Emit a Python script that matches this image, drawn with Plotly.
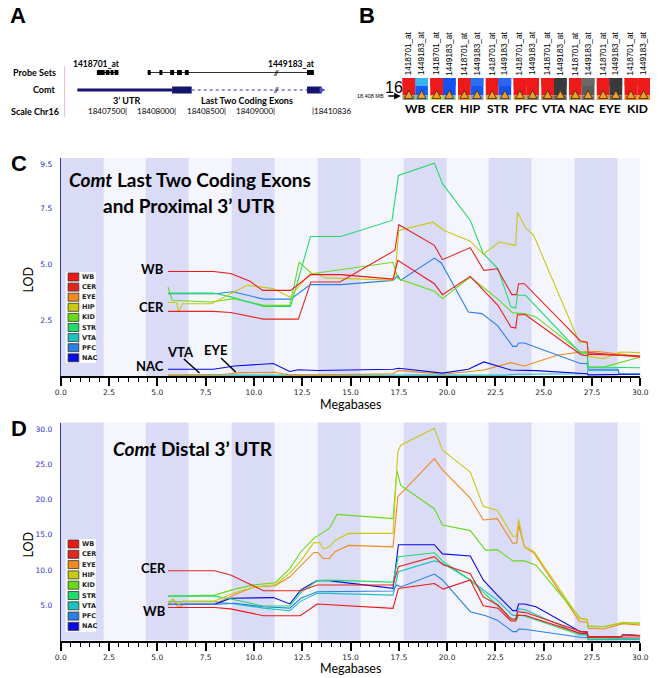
import plotly.graph_objects as go

W, H = 662, 678
def PX(x): return x / W
def PY(y): return 1 - y / H

# ---------------- data: tissues ----------------
tissues = ['WB', 'CER', 'EYE', 'HIP', 'KID', 'STR', 'VTA', 'PFC', 'NAC']
tissue_colors = ['#f01616', '#e4261c', '#f08a1e', '#c9c912', '#66dc18', '#22dc6a', '#1cc2c2', '#2a80e2', '#0a0ae4']

# ---------------- panel C: last two coding exons + proximal 3' UTR ----------------
c_wb_mb  = [5.55, 7.9, 8.8, 9.8, 10.45, 11.9, 12.95, 14.5, 17.2, 17.45, 19.34, 19.76, 21.2, 22.63, 23.3, 23.55, 23.64, 24.06, 26.93, 27.25, 27.3, 28.85, 30.0]
c_wb_lod = [4.69, 4.69, 4.6, 4.25, 3.84, 3.84, 4.55, 4.55, 4.35, 5.19, 4.14, 3.65, 4.47, 3.17, 2.2, 2.15, 2.75, 2.75, 0.95, 0.9, 0.98, 0.95, 0.9]
c_cer_mb  = [5.55, 7.9, 8.8, 10.5, 12.3, 12.95, 14.45, 17.3, 17.5, 19.34, 19.76, 21.2, 21.9, 22.6, 23.35, 23.6, 23.7, 24.0, 26.9, 27.25, 27.3, 30.0]
c_cer_lod = [2.9, 2.9, 2.85, 2.55, 2.55, 4.22, 4.22, 5.64, 6.79, 5.86, 5.22, 5.76, 4.74, 4.81, 3.65, 3.65, 4.14, 4.14, 1.57, 1.52, 1.05, 0.85]
c_eye_mb  = [5.55, 7.5, 8.5, 9.3, 11.1, 11.8, 13.9, 17.2, 17.5, 19.8, 21.9, 23.3, 24.0, 25.7, 26.9, 27.8, 30.0]
c_eye_lod = [0.03, 0.05, 0.08, 0.15, 0.17, 0.05, 0.05, 0.1, 0.25, 0.08, 0.27, 0.6, 0.45, 0.93, 1.08, 1.1, 0.88]
c_hip_mb  = [5.55, 6.0, 6.1, 6.3, 7.8, 9.65, 11.0, 11.85, 12.9, 13.3, 13.7, 17.2, 17.3, 17.5, 19.26, 19.85, 21.2, 21.87, 22.7, 23.55, 23.64, 24.06, 24.48, 26.84, 27.26, 27.3, 28.1, 28.95, 30.0]
c_hip_lod = [3.3, 3.3, 2.87, 3.24, 3.24, 4.07, 3.92, 3.54, 4.59, 4.59, 4.4, 4.3, 4.5, 6.53, 6.9, 6.53, 6.05, 5.46, 6.01, 5.86, 7.35, 6.65, 6.31, 1.52, 1.5, 0.88, 0.78, 1.08, 1.05]
c_kid_mb  = [5.55, 5.77, 7.8, 8.97, 10.5, 11.86, 12.34, 13.0, 17.2, 17.45, 19.34, 19.76, 21.2, 22.6, 23.4, 24.0, 24.6, 26.9, 27.25, 27.3, 28.1, 29.1, 30.0]
c_kid_lod = [4.0, 3.4, 3.32, 3.47, 3.17, 3.17, 5.11, 4.59, 5.1, 4.37, 3.8, 3.47, 4.44, 3.47, 2.83, 2.8, 2.65, 1.08, 1.05, 0.4, 0.4, 0.62, 0.85]
c_str_mb  = [5.55, 7.9, 8.8, 10.5, 11.9, 12.93, 14.5, 17.15, 17.48, 19.34, 19.76, 21.2, 21.87, 22.63, 23.3, 23.55, 23.64, 24.06, 26.93, 27.26, 27.3, 30.0]
c_str_lod = [3.72, 3.72, 3.55, 3.12, 3.12, 6.26, 6.26, 6.98, 9.0, 9.55, 8.63, 6.98, 5.49, 4.82, 3.1, 3.05, 3.62, 3.62, 1.0, 1.0, 0.4, 0.37]
c_vta_mb  = [5.55, 23.0, 23.6, 27.25, 27.3, 28.85, 28.9, 30.0]
c_vta_lod = [0.04, 0.04, 0.08, 0.1, 0.25, 0.25, 0.08, 0.08]
c_pfc_mb  = [5.55, 8.0, 8.9, 10.5, 11.9, 12.93, 14.5, 17.2, 17.45, 17.6, 19.34, 19.7, 21.1, 21.8, 22.6, 23.4, 23.6, 23.7, 24.0, 26.9, 27.25, 27.3, 28.85, 28.9, 30.0]
c_pfc_lod = [3.69, 3.69, 3.78, 3.45, 3.45, 4.1, 4.1, 4.29, 4.5, 4.3, 5.29, 5.07, 2.87, 2.8, 2.27, 1.33, 1.33, 1.48, 1.48, 0.56, 0.56, 0.3, 0.3, 0.1, 0.1]
c_nac_mb  = [5.55, 7.9, 9.0, 10.0, 11.0, 11.85, 12.3, 13.3, 17.2, 17.5, 19.76, 21.1, 21.9, 23.3, 24.6, 27.25, 27.3, 30.0]
c_nac_lod = [0.3, 0.3, 0.45, 0.52, 0.56, 0.2, 0.28, 0.25, 0.3, 0.35, 0.13, 0.3, 0.63, 0.27, 0.24, 0.1, 0.05, 0.08]

# ---------------- panel D: distal 3' UTR ----------------
d_wb_mb  = [5.55, 7.96, 8.8, 10.49, 12.4, 13.27, 17.2, 17.48, 19.34, 19.8, 21.2, 21.87, 22.63, 23.3, 23.55, 23.64, 24.06, 26.9, 27.25, 27.3, 30.0]
d_wb_lod = [4.7, 4.7, 4.5, 3.53, 3.53, 5.18, 4.57, 7.4, 8.1, 7.3, 8.6, 4.95, 4.6, 2.78, 2.78, 3.63, 3.55, 1.03, 1.0, 0.47, 0.5]
d_cer_mb  = [5.55, 7.96, 8.8, 10.49, 12.43, 13.27, 17.2, 17.48, 19.34, 19.76, 21.2, 21.87, 22.63, 23.3, 23.55, 23.64, 24.06, 26.93, 27.25, 27.3, 29.0, 29.1, 30.0]
d_cer_lod = [9.9, 9.9, 9.3, 7.07, 7.07, 7.88, 7.88, 10.47, 11.9, 10.8, 9.5, 6.2, 5.04, 3.06, 3.06, 4.1, 3.97, 1.27, 1.2, 0.56, 0.56, 0.85, 0.7]
d_eye_mb  = [5.55, 5.8, 6.1, 6.4, 7.96, 9.0, 10.0, 11.1, 11.86, 12.43, 13.1, 13.3, 13.6, 13.9, 14.2, 14.9, 17.2, 17.45, 19.34, 19.76, 21.2, 21.87, 22.6, 23.4, 23.6, 23.7, 24.0, 24.5, 26.85, 27.25, 27.3, 28.1, 29.1, 30.0]
d_eye_lod = [5.0, 5.9, 4.7, 5.2, 5.2, 6.5, 7.6, 7.8, 9.05, 10.6, 12.5, 12.5, 11.65, 11.65, 12.6, 13.5, 13.3, 20.4, 25.8, 24.2, 20.2, 17.1, 17.3, 13.8, 13.8, 16.4, 13.3, 12.4, 2.7, 2.6, 1.74, 1.65, 2.4, 2.2]
d_hip_mb  = [5.55, 5.8, 6.1, 6.3, 7.96, 9.0, 10.0, 11.1, 11.86, 12.43, 13.1, 13.4, 13.6, 13.9, 14.2, 14.9, 17.2, 17.45, 17.6, 19.34, 19.76, 21.2, 21.87, 22.6, 23.4, 23.6, 23.7, 24.0, 24.5, 26.85, 27.25, 27.3, 28.1, 29.1, 30.0]
d_hip_lod = [5.3, 5.9, 5.2, 5.6, 5.6, 6.8, 7.6, 7.9, 9.6, 11.3, 13.9, 13.9, 13.0, 13.3, 14.2, 15.2, 15.2, 26.8, 27.7, 30.1, 27.0, 23.9, 19.06, 18.5, 14.8, 14.8, 17.2, 13.3, 12.6, 3.15, 3.0, 2.1, 2.0, 2.6, 2.5]
d_kid_mb  = [5.55, 7.96, 9.0, 10.0, 11.1, 11.86, 12.43, 13.1, 13.9, 14.3, 17.2, 17.4, 17.6, 19.34, 19.76, 21.2, 22.0, 22.6, 23.4, 24.0, 24.6, 26.9, 27.25, 27.3, 28.1, 29.1, 30.0]
d_kid_lod = [6.3, 6.45, 7.3, 7.9, 8.2, 10.2, 12.6, 14.5, 15.9, 17.9, 17.3, 24.1, 22.0, 18.7, 16.4, 15.6, 12.8, 12.9, 11.3, 11.3, 10.7, 3.15, 2.95, 1.97, 1.97, 2.54, 2.45]
d_str_mb  = [5.55, 7.96, 9.0, 10.49, 11.86, 12.43, 13.27, 13.86, 17.2, 17.48, 19.34, 19.76, 21.2, 22.6, 23.4, 23.6, 23.7, 24.0, 26.9, 27.25, 27.3, 30.0]
d_str_lod = [6.3, 6.3, 5.8, 4.9, 4.9, 6.8, 8.5, 8.58, 8.3, 11.9, 12.45, 11.3, 8.6, 5.04, 2.92, 2.92, 3.6, 3.5, 0.8, 0.75, 0.2, 0.3]
d_vta_mb  = [5.55, 7.96, 9.0, 10.49, 11.86, 12.43, 13.27, 13.86, 17.2, 17.48, 19.34, 19.76, 21.2, 22.6, 23.4, 23.6, 23.7, 24.0, 26.9, 27.25, 27.3, 30.0]
d_vta_lod = [5.5, 5.5, 5.2, 4.6, 4.23, 5.6, 6.7, 6.7, 6.45, 9.76, 11.3, 11.0, 8.6, 5.7, 3.57, 3.57, 4.5, 4.4, 0.9, 0.85, 0.2, 0.3]
d_pfc_mb  = [5.55, 7.96, 9.0, 10.49, 11.86, 12.43, 13.27, 13.86, 17.2, 17.4, 17.6, 19.34, 19.76, 21.2, 22.0, 22.6, 23.4, 23.6, 23.7, 24.0, 26.9, 27.25, 27.3, 30.0]
d_pfc_lod = [5.14, 5.14, 5.3, 4.8, 4.6, 6.0, 6.93, 6.93, 7.03, 7.88, 7.6, 9.43, 8.6, 4.1, 3.53, 2.9, 1.27, 1.27, 1.65, 1.6, 0.47, 0.45, 0.1, 0.1]
d_nac_mb  = [5.55, 7.96, 8.8, 10.0, 11.0, 11.86, 12.43, 13.27, 13.86, 17.2, 17.48, 19.34, 19.76, 21.2, 21.87, 22.6, 23.4, 23.6, 23.7, 24.0, 24.6, 26.9, 27.25, 27.3, 29.0, 29.1, 30.0]
d_nac_lod = [5.14, 5.14, 6.0, 6.1, 6.1, 5.2, 7.2, 8.5, 8.5, 7.4, 13.6, 13.6, 12.3, 12.0, 8.6, 6.45, 4.25, 4.25, 5.18, 5.18, 4.8, 1.27, 1.2, 0.5, 0.5, 0.85, 0.7]

x_ticks = [0, 2.5, 5, 7.5, 10, 12.5, 15, 17.5, 20, 22.5, 25, 27.5, 30]
c_yticks = [2.5, 5.0, 7.5, 9.5]
d_yticks = [5.0, 10.0, 15.0, 20.0, 25.0, 30.0]
band_starts = [0.0, 4.4, 8.85, 13.3, 17.75, 22.15, 26.6]
band_width = 2.22
marker_mb = 18.38

# panel B: probe set colour cells
b_groups = ['WB', 'CER', 'HIP', 'STR', 'PFC', 'VTA', 'NAC', 'EYE', 'KID']
b_probes = ['1418701_at', '1449183_at']
b_col1 = ['#ee1a1a'] * 9
b_col2 = ['#1a5cf0', '#1450ee', '#1458ee', '#1450ee', '#ee1a1a', '#3a3a3a', '#5c5c5c', '#3a3a3a', '#ee1a1a']
b_col2_top = ['#3ab4f0', '#1450ee', '#2a70f0', '#2a66f0', '#ee1a1a', '#3a3a3a', '#6a6a6a', '#3a3a3a', '#ee1a1a']
b_strip1 = ['#9a9a6a', '#d8d830', '#e89a30', '#c8b050', '#d0a040', '#b07040', '#c09040', '#e89030', '#e88020']
b_strip2 = ['#70b0c0', '#88c0c0', '#80a0d0', '#90b0c0', '#8a8a6a', '#6a6a6a', '#7a7a7a', '#6a6a6a', '#e89030']

# panel A: gene model (bp)
a_ticks_bp = [18407500, 18408000, 18408500, 18409000]
a_end_bp = 18410836
a_utr_bp = [18407007, 18407963]
a_exon1_bp = [18407963, 18408161]
a_exon2_bp = [18410777, 18410925]
a_probe1_bp = [[18407204, 18407283], [18407293, 18407332], [18407342, 18407372], [18407382, 18407421]]
a_probe2_bp = [[18407717, 18407747], [18407835, 18407865], [18407944, 18407983], [18408013, 18408062], [18408092, 18408131], [18410777, 18410846]]

# ---------------- figure ----------------
fig = go.Figure()

c_data = {'WB': (c_wb_mb, c_wb_lod), 'CER': (c_cer_mb, c_cer_lod), 'EYE': (c_eye_mb, c_eye_lod),
          'HIP': (c_hip_mb, c_hip_lod), 'KID': (c_kid_mb, c_kid_lod), 'STR': (c_str_mb, c_str_lod),
          'VTA': (c_vta_mb, c_vta_lod), 'PFC': (c_pfc_mb, c_pfc_lod), 'NAC': (c_nac_mb, c_nac_lod)}
d_data = {'WB': (d_wb_mb, d_wb_lod), 'CER': (d_cer_mb, d_cer_lod), 'EYE': (d_eye_mb, d_eye_lod),
          'HIP': (d_hip_mb, d_hip_lod), 'KID': (d_kid_mb, d_kid_lod), 'STR': (d_str_mb, d_str_lod),
          'VTA': (d_vta_mb, d_vta_lod), 'PFC': (d_pfc_mb, d_pfc_lod), 'NAC': (d_nac_mb, d_nac_lod)}

draw_order = ['VTA', 'EYE', 'NAC', 'PFC', 'KID', 'STR', 'HIP', 'CER', 'WB']
for t in draw_order:
    col = tissue_colors[tissues.index(t)]
    x, y = c_data[t]
    fig.add_trace(go.Scatter(x=x, y=y, mode='lines', line=dict(color=col, width=1.1),
                             xaxis='x', yaxis='y', showlegend=False, hoverinfo='skip'))
    x, y = d_data[t]
    fig.add_trace(go.Scatter(x=x, y=y, mode='lines', line=dict(color=col, width=1.1),
                             xaxis='x2', yaxis='y2', showlegend=False, hoverinfo='skip'))

c_top, c_bot = 158, 376
d_top, d_bot = 422.5, 640.6
c_scale = 22.29
d_scale = 7.052
c_range = [0, (c_bot - c_top) / c_scale]
d_range = [0, (d_bot - d_top) / d_scale]

# purple markers below the axes
fig.add_trace(go.Scatter(x=[marker_mb], y=[-11 / c_scale], mode='markers', xaxis='x', yaxis='y',
                         marker=dict(symbol='triangle-up', size=17, color='#b400f0'),
                         cliponaxis=False, showlegend=False, hoverinfo='skip'))
fig.add_trace(go.Scatter(x=[marker_mb], y=[-10 / d_scale], mode='markers', xaxis='x2', yaxis='y2',
                         marker=dict(symbol='triangle-up', size=17, color='#b400f0'),
                         cliponaxis=False, showlegend=False, hoverinfo='skip'))

def xaxis_cfg(dom_y_anchor):
    return dict(domain=[PX(56), PX(649)], range=[0, 30], anchor=dom_y_anchor,
                tickmode='array', tickvals=x_ticks, ticktext=['%.1f' % v for v in x_ticks],
                ticks='outside', ticklen=8, tickwidth=2, tickcolor='black',
                showline=True, linecolor='black', linewidth=2, showgrid=False, zeroline=False,
                tickfont=dict(family='DejaVu Sans', size=7.5, color='#222222'),
                minor=dict(tickmode='linear', tick0=0, dtick=0.5, ticks='outside', ticklen=4,
                           tickwidth=1, tickcolor='black', showgrid=False),
                fixedrange=True)

def yaxis_cfg(dom, rng, tv, xanchor):
    return dict(domain=dom, range=rng, anchor=xanchor, tickmode='array', tickvals=tv,
                ticktext=['%.1f' % v for v in tv], ticks='outside', ticklen=6,
                tickcolor='rgba(0,0,0,0)', showline=True, linecolor='#3a3a8a', linewidth=1,
                showgrid=False, zeroline=False,
                tickfont=dict(family='DejaVu Sans', size=7.5, color='#2a2acc'), fixedrange=True)

shapes = []
annotations = []

for xr, yr in (('x', 'y'), ('x2', 'y2')):
    for s in band_starts:
        shapes.append(dict(type='rect', xref=xr, yref=yr + ' domain', x0=s, x1=min(s + band_width, 30),
                           y0=0, y1=1, fillcolor='#dadbf6', line=dict(width=0), layer='below'))

# in-plot legends
def legend_block(top_y, step):
    shapes.append(dict(type='rect', xref='paper', yref='paper', x0=PX(61), x1=PX(92),
                       y0=PY(top_y - 4 + step * 9 - 1), y1=PY(top_y - 5),
                       fillcolor='white', line=dict(width=0), layer='above'))
    for i, (t, c) in enumerate(zip(tissues, tissue_colors)):
        yc = top_y + i * step
        shapes.append(dict(type='rect', xref='paper', yref='paper', x0=PX(63.5), x1=PX(74.5),
                           y0=PY(yc + 4), y1=PY(yc - 4), fillcolor=c,
                           line=dict(color='#333333', width=0.8), layer='above'))
        annotations.append(dict(xref='paper', yref='paper', x=PX(75.5), y=PY(yc), text='<b>%s</b>' % t,
                                showarrow=False, xanchor='left', yanchor='middle',
                                font=dict(family='DejaVu Sans', size=6.5, color='#222222')))

legend_block(277, 10.1)
legend_block(544, 10.3)

def txt(x, y, s, size, family='Lato', color='black', xa='center', ya='middle', angle=0, pad=1):
    annotations.append(dict(xref='paper', yref='paper', x=PX(x), y=PY(y), text=s, showarrow=False,
                            xanchor=xa, yanchor=ya, textangle=angle, borderpad=pad,
                            font=dict(family=family, size=size, color=color)))

# panel labels
for lab, x, y in (('A', 12, 15), ('B', 369, 15), ('C', 13, 163), ('D', 13, 428)):
    txt(x, y, '<b>%s</b>' % lab, 22, family='Liberation Sans')

# panel C texts
txt(188, 180, '<b><i>Comt</i> Last Two Coding Exons</b>', 19)
txt(188, 205, '<b>and Proximal 3\u2019 UTR</b>', 19)
txt(164, 269, '<b>WB</b>', 13, xa='right')
txt(164, 307, '<b>CER</b>', 13, xa='right')
txt(164, 366, '<b>NAC</b>', 13, xa='right')
txt(179, 352, '<b>VTA</b>', 13)
txt(214, 350, '<b>EYE</b>', 13)
shapes.append(dict(type='line', xref='paper', yref='paper', x0=PX(182), y0=PY(359), x1=PX(198), y1=PY(373),
                   line=dict(color='black', width=1.5)))
shapes.append(dict(type='line', xref='paper', yref='paper', x0=PX(220), y0=PY(358), x1=PX(235), y1=PY(372),
                   line=dict(color='black', width=1.5)))
txt(352, 404, 'Megabases', 12.5, family='Lato')
txt(22, 280, 'LOD', 12.5, family='Lato', angle=-90)

# panel D texts
txt(191, 448, '<b><i>Comt</i> Distal 3\u2019 UTR</b>', 19)
txt(166, 568, '<b>CER</b>', 13, xa='right')
txt(166, 611, '<b>WB</b>', 13, xa='right')
txt(352, 668, 'Megabases', 12.5, family='Lato')
txt(22, 545, 'LOD', 12.5, family='Lato', angle=-90)

# ---------------- panel A ----------------
def bp2px(bp):
    if bp <= 18409100:
        return 123 + (bp - 18407500) * 0.1014
    return 314 + (bp - a_end_bp) * 0.1014

txt(53, 72.5, '<b>Probe Sets</b>', 9, xa='right')
txt(53, 90, '<b>Comt</b>', 9, xa='right')
txt(3, 111, '<b>Scale Chr16</b>', 9, xa='left')
shapes.append(dict(type='line', xref='paper', yref='paper', x0=PX(60), x1=PX(60), y0=PY(66), y1=PY(117),
                   line=dict(color='#e8c0c0', width=1)))
txt(93, 64, '<b>1418701_at</b>', 8.5, pad=0)
txt(292, 64, '<b>1449183_at</b>', 8.5, pad=0)
# probe sets
for a, b in a_probe1_bp:
    shapes.append(dict(type='rect', xref='paper', yref='paper', x0=PX(bp2px(a)), x1=PX(bp2px(b)),
                       y0=PY(75), y1=PY(70), fillcolor='black', line=dict(width=0)))
shapes.append(dict(type='line', xref='paper', yref='paper', x0=PX(bp2px(a_probe1_bp[0][0])),
                   x1=PX(bp2px(a_probe1_bp[-1][1])), y0=PY(72.5), y1=PY(72.5), line=dict(color='black', width=1)))
for a, b in a_probe2_bp:
    shapes.append(dict(type='rect', xref='paper', yref='paper', x0=PX(bp2px(a)), x1=PX(bp2px(b)),
                       y0=PY(75), y1=PY(70), fillcolor='black', line=dict(width=0)))
shapes.append(dict(type='line', xref='paper', yref='paper', x0=PX(bp2px(a_probe2_bp[0][0])),
                   x1=PX(bp2px(a_probe2_bp[-1][1])), y0=PY(72.5), y1=PY(72.5), line=dict(color='black', width=0.8)))
# gene
shapes.append(dict(type='rect', xref='paper', yref='paper', x0=PX(bp2px(a_utr_bp[0])), x1=PX(bp2px(a_utr_bp[1])),
                   y0=PY(91.5), y1=PY(88.5), fillcolor='#14146e', line=dict(width=0)))
shapes.append(dict(type='rect', xref='paper', yref='paper', x0=PX(bp2px(a_exon1_bp[0])), x1=PX(bp2px(a_exon1_bp[1])),
                   y0=PY(93.5), y1=PY(86.5), fillcolor='#14146e', line=dict(width=0)))
shapes.append(dict(type='line', xref='paper', yref='paper', x0=PX(bp2px(a_exon1_bp[1])), x1=PX(bp2px(a_exon2_bp[0])),
                   y0=PY(90), y1=PY(90), line=dict(color='#7070c8', width=1.5, dash='dot')))
shapes.append(dict(type='rect', xref='paper', yref='paper', x0=PX(bp2px(a_exon2_bp[0])), x1=PX(bp2px(a_exon2_bp[1])),
                   y0=PY(93.5), y1=PY(86.5), fillcolor='#14146e', line=dict(width=0)))
annotations.append(dict(xref='paper', yref='paper', x=PX(bp2px(a_exon2_bp[1]) + 4), y=PY(90), ax=-5, ay=0,
                        text='', showarrow=True, arrowhead=2, arrowsize=0.8, arrowwidth=1.5, arrowcolor='#5050c0'))
for yy in (73, 90):
    txt(277, yy, '<b><i>//</i></b>', 7, color='#14146e' if yy == 90 else 'black', pad=0)
txt(123, 100.5, '<b>3\u2019 UTR</b>', 9, pad=0)
txt(247, 100.5, '<b>Last Two Coding Exons</b>', 9, pad=0)
for bp in a_ticks_bp:
    txt(bp2px(bp) + 1.5, 111, '%d|' % bp, 8, xa='right', pad=0)
txt(bp2px(a_end_bp) - 1.5, 111, '|%d' % a_end_bp, 8, xa='left', pad=0)

# ---------------- panel B ----------------
g_left0, g_step, c_w = 405.7, 28.4, 13.0
cell_top, cell_bot, strip_top = 78.0, 100.0, 95.5
for gi, g in enumerate(b_groups):
    gl = g_left0 + gi * g_step
    for ci in range(2):
        x0 = gl + ci * c_w
        x1 = x0 + c_w
        base = b_col1[gi] if ci == 0 else b_col2[gi]
        top = b_col1[gi] if ci == 0 else b_col2_top[gi]
        strip = b_strip1[gi] if ci == 0 else b_strip2[gi]
        shapes.append(dict(type='rect', xref='paper', yref='paper', x0=PX(x0), x1=PX(x1),
                           y0=PY(strip_top), y1=PY(cell_top), fillcolor=base, line=dict(width=0)))
        shapes.append(dict(type='rect', xref='paper', yref='paper', x0=PX(x0), x1=PX(x1),
                           y0=PY(86), y1=PY(cell_top), fillcolor=top, line=dict(width=0)))
        shapes.append(dict(type='rect', xref='paper', yref='paper', x0=PX(x0), x1=PX(x1),
                           y0=PY(cell_bot), y1=PY(strip_top), fillcolor=strip, line=dict(width=0)))
        cx = (x0 + x1) / 2
        path = 'M %f,%f L %f,%f L %f,%f Z' % (PX(cx - 4.5), PY(98.5), PX(cx + 4.5), PY(98.5), PX(cx), PY(90.5))
        shapes.append(dict(type='path', xref='paper', yref='paper', path=path, fillcolor='#f0a028',
                           line=dict(color='#3a2a10', width=0.8)))
        txt(cx, 53.5, b_probes[ci], 8.2, family='Liberation Sans', angle=-90)
    txt(gl + c_w, 108.5, '<b>%s</b>' % g, 12)
txt(397, 87.5, '16', 16, family='Liberation Sans')
txt(389, 96, '18.408 MB', 5.5, family='Liberation Sans', xa='right')
annotations.append(dict(xref='paper', yref='paper', x=PX(404), y=PY(96), ax=-14, ay=0, text='',
                        showarrow=True, arrowhead=2, arrowsize=0.9, arrowwidth=1.5, arrowcolor='black'))

fig.update_layout(
    width=W, height=H, margin=dict(l=0, r=0, t=0, b=0), autosize=False,
    paper_bgcolor='white', plot_bgcolor='#f5f5fd', showlegend=False,
    xaxis=xaxis_cfg('y'),
    yaxis=yaxis_cfg([PY(c_bot), PY(c_top)], c_range, c_yticks, 'x'),
    xaxis2=xaxis_cfg('y2'),
    yaxis2=yaxis_cfg([PY(d_bot), PY(d_top)], d_range, d_yticks, 'x2'),
    shapes=shapes, annotations=annotations,
)

fig.write_html('out.html', config={'displayModeBar': False},
               post_script="document.body.style.margin='0';document.body.style.overflow='hidden';")
